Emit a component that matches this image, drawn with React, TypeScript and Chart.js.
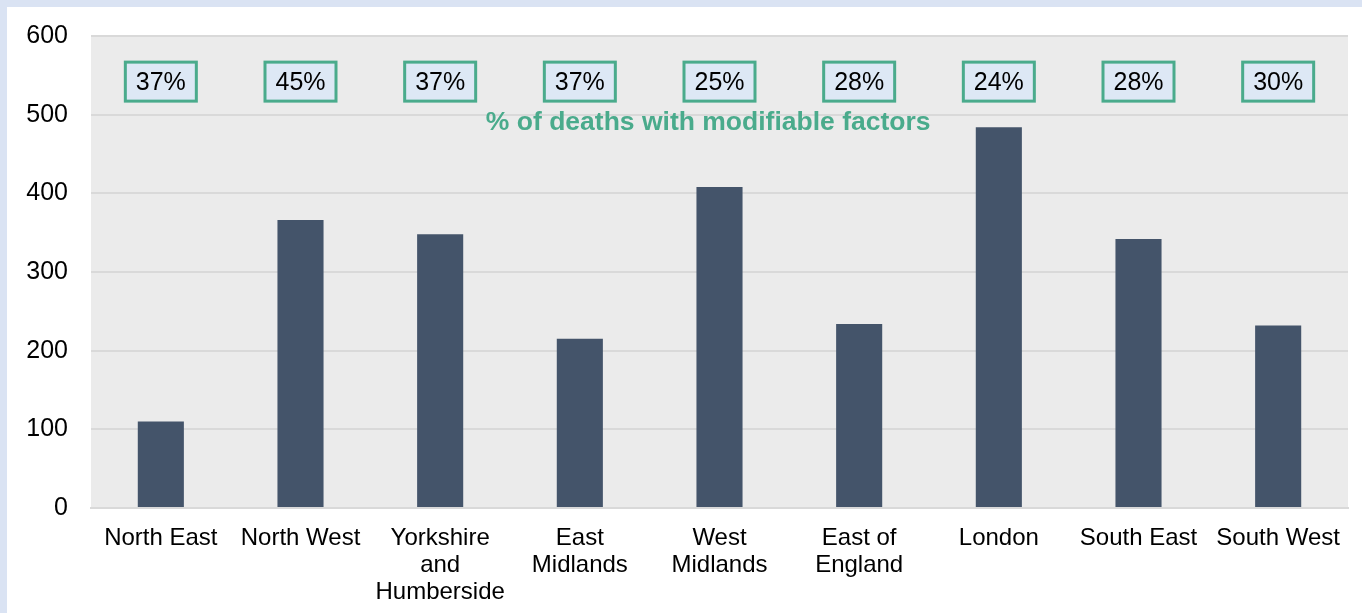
import React, { useEffect, useRef } from "react";
import { Chart, registerables } from "chart.js";

Chart.register(...registerables);

const categories: (string | string[])[] = [
  "North East",
  "North West",
  ["Yorkshire", "and", "Humberside"],
  ["East", "Midlands"],
  ["West", "Midlands"],
  ["East of", "England"],
  "London",
  "South East",
  "South West",
];
const deaths = [110, 366, 348, 215, 408, 234, 484, 342, 232];
const modifiablePct = ["37%", "45%", "37%", "37%", "25%", "28%", "24%", "28%", "30%"];
const subtitle = "% of deaths with modifiable factors";
const yTicks = [0, 100, 200, 300, 400, 500, 600];

const FONT = "'Liberation Sans', Arial, sans-serif";

export default function App() {
  const ref = useRef<HTMLCanvasElement | null>(null);
  useEffect(() => {
    if (!ref.current) return;
    const bgPlugin = {
      id: "plotBg",
      beforeDraw(chart: any) {
        const { ctx, chartArea } = chart;
        ctx.save();
        ctx.fillStyle = "#ebebeb";
        ctx.fillRect(chartArea.left, chartArea.top, chartArea.right - chartArea.left, chartArea.bottom - chartArea.top);
        ctx.restore();
      },
    };
    const boxPlugin = {
      id: "pctBoxes",
      afterDatasetsDraw(chart: any) {
        const { ctx, chartArea } = chart;
        const xs = chart.scales.x;
        const ys = chart.scales.y;
        ctx.save();
        ctx.font = `25px ${FONT}`;
        ctx.textAlign = "center";
        ctx.textBaseline = "middle";
        const by = ys.getPixelForValue(542);
        modifiablePct.forEach((p, i) => {
          const x = xs.getPixelForValue(i);
          const w = 71, h = 39;
          ctx.fillStyle = "#dde8f5";
          ctx.fillRect(x - w / 2, by - h / 2, w, h);
          ctx.strokeStyle = "#4aab8c";
          ctx.lineWidth = 3;
          ctx.strokeRect(x - w / 2, by - h / 2, w, h);
          ctx.fillStyle = "#000";
          ctx.fillText(p, x, by + 1);
        });
        ctx.font = `bold 26.5px ${FONT}`;
        ctx.fillStyle = "#4aab8c";
        const sx = chartArea.left + (chartArea.right - chartArea.left) * 0.491;
        ctx.fillText(subtitle, sx, ys.getPixelForValue(490));
        ctx.restore();
      },
    };
    const chart = new Chart(ref.current, {
      type: "bar",
      data: {
        labels: categories,
        datasets: [
          {
            data: deaths,
            backgroundColor: "#44546a",
            categoryPercentage: 1,
            barPercentage: 0.33,
          },
        ],
      },
      options: {
        animation: false,
        responsive: false,
        layout: { padding: { top: 29, right: 14, left: 0, bottom: 0 } },
        plugins: { legend: { display: false }, tooltip: { enabled: false } },
        scales: {
          x: {
            grid: { display: false, drawTicks: false },
            border: { display: true, color: "#d9d9d9", width: 2 },
            ticks: {
              color: "#000",
              font: { family: FONT, size: 24, lineHeight: 1.125 },
              padding: 17,
              maxRotation: 0,
              autoSkip: false,
            },
            afterFit(scale: any) {
              scale.height = 105;
            },
          },
          y: {
            min: 0,
            max: 600,
            afterBuildTicks(scale: any) {
              scale.ticks = yTicks.map((v) => ({ value: v }));
            },
            grid: { color: "#d9d9d9", lineWidth: 2, drawTicks: false },
            border: { display: false },
            ticks: {
              color: "#000",
              font: { family: FONT, size: 25 },
              padding: 23,
            },
            afterFit(scale: any) {
              scale.width = 84;
              scale.paddingTop = 0;
              scale.paddingBottom = 0;
            },
          },
        },
      },
      plugins: [bgPlugin, boxPlugin],
    });
    return () => chart.destroy();
  }, []);
  return (
    <div style={{ position: "fixed", left: 0, top: 0, width: 1362, height: 613, background: "#dae3f3" }}>
      <div style={{ position: "absolute", left: 7, top: 7, width: 1355, height: 606, background: "#fff" }}>
        <canvas ref={ref} width={1355} height={606} style={{ display: "block" }} />
      </div>
    </div>
  );
}
